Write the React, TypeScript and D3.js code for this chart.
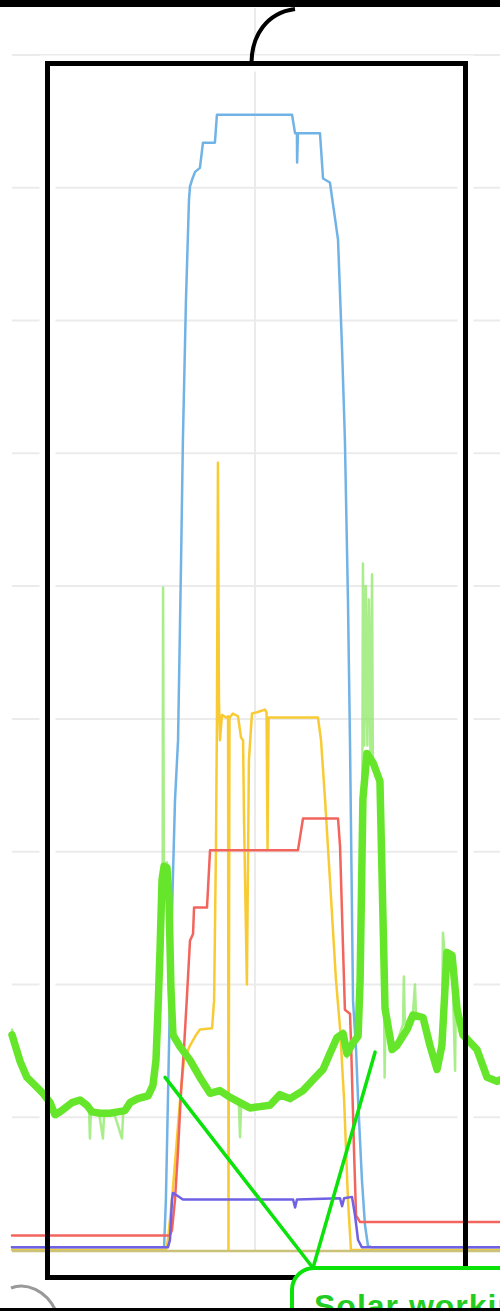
import React from "react";
import * as d3 from "d3";

// time in hours, values in kW
const yTicks = [1, 2, 3, 4, 5, 6, 7, 8, 9];
const xTicks = [12];

const solar: [number, number][] = [
  [0, 0.02], [7.51, 0.02], [7.6, 0.38], [7.7, 1.13], [7.85, 2.26], [8.05, 3.39], [8.2, 3.84],
  [8.35, 5.2], [8.44, 6.1], [8.59, 7.15], [8.74, 7.91], [8.79, 8.01], [8.89, 8.06], [9.04, 8.12],
  [9.28, 8.15], [9.43, 8.34], [10.02, 8.34], [10.12, 8.55], [13.83, 8.55], [13.98, 8.41],
  [14.07, 8.41], [14.08, 8.19], [14.12, 8.41], [15.21, 8.41], [15.36, 8.07], [15.7, 8.04],
  [16.1, 7.61], [16.3, 6.78], [16.44, 6.1], [16.59, 4.9], [16.69, 3.84], [16.84, 1.88],
  [16.99, 1.51], [17.09, 1.13], [17.28, 0.53], [17.43, 0.19], [17.58, 0.03], [17.78, 0.02], [24.1, 0.02],
];

const battery: [number, number][] = [
  [0, 0], [7.6, 0], [7.7, 0.075], [7.9, 0.38], [8.1, 0.75], [8.3, 1.13], [8.49, 1.43], [8.79, 1.54],
  [9.09, 1.62], [9.28, 1.66], [9.88, 1.67], [9.98, 1.88], [10.07, 3.01], [10.12, 3.99], [10.17, 5.93],
  [10.22, 4.14], [10.27, 3.84], [10.37, 4.03], [10.57, 4.01], [10.67, 4.02], [10.69, 0], [10.74, 4.01],
  [10.91, 4.04], [11.16, 4.02], [11.31, 3.86], [11.41, 3.84], [11.46, 3.22], [11.6, 2.0], [11.7, 3.69],
  [11.85, 4.04], [12.1, 4.05], [12.49, 4.07], [12.57, 4.05], [12.62, 3.01], [12.67, 4.01], [12.99, 4.01],
  [14.22, 4.01], [15.11, 4.01], [15.26, 3.84], [15.46, 3.39], [15.7, 2.79], [16.0, 2.03], [16.2, 1.67],
  [16.4, 1.13], [16.59, 0.38], [16.74, 0], [24.1, 0],
];

const heating: [number, number][] = [
  [0, 0.11], [7.8, 0.11], [7.9, 0.15], [8.05, 0.38], [8.2, 0.75], [8.35, 1.2], [8.49, 1.51], [8.64, 1.91],
  [8.79, 2.33], [8.94, 2.38], [8.99, 2.58], [9.63, 2.58], [9.78, 3.01], [14.12, 3.01], [14.37, 3.25],
  [16.1, 3.25], [16.2, 3.04], [16.35, 2.26], [16.44, 1.81], [16.69, 1.78], [16.74, 1.58], [16.89, 0.75],
  [16.99, 0.26], [17.19, 0.21], [24.1, 0.21],
];

const car: [number, number][] = [
  [0, 0.02], [7.7, 0.02], [7.8, 0.075], [7.9, 0.38], [7.95, 0.43], [8.15, 0.41], [8.44, 0.38],
  [13.88, 0.38], [13.98, 0.32], [14.07, 0.38], [16.2, 0.39], [16.3, 0.33], [16.4, 0.39], [16.79, 0.4],
  [16.94, 0.26], [17.09, 0.075], [17.28, 0.02], [24.1, 0.02],
];

const houseRaw: [number, number][] = [
  [0, 1.66], [0.4, 1.45], [0.8, 1.28], [1.2, 1.22], [1.6, 1.16], [2.0, 1.08], [2.2, 1.0], [2.5, 1.06],
  [3.0, 1.12], [3.4, 1.12], [3.8, 1.07], [3.85, 0.84], [3.9, 1.06], [4.3, 1.03], [4.49, 0.84], [4.55, 1.03],
  [5.0, 1.05], [5.43, 0.84], [5.5, 1.06], [5.8, 1.13], [6.2, 1.16], [6.7, 1.18], [7.0, 1.27], [7.2, 1.85],
  [7.35, 2.3], [7.44, 2.9], [7.46, 4.99], [7.5, 2.9], [7.65, 2.92], [7.75, 2.7], [7.85, 1.98], [7.95, 1.64],
  [8.3, 1.55], [8.8, 1.45], [9.3, 1.32], [9.8, 1.2], [10.3, 1.22], [10.8, 1.14], [11.2, 1.12], [11.26, 0.85],
  [11.32, 1.1], [11.8, 1.08], [12.3, 1.1], [12.8, 1.1], [13.2, 1.18], [13.7, 1.15], [14.4, 1.22],
  [14.9, 1.3], [15.4, 1.38], [15.7, 1.5], [16.05, 1.62], [16.35, 1.65], [16.54, 1.45], [16.84, 1.58],
  [17.09, 1.63], [17.2, 2.1], [17.3, 3.4], [17.33, 5.17], [17.4, 3.8], [17.47, 5.0], [17.55, 3.8],
  [17.62, 4.9], [17.7, 3.75], [17.78, 5.09], [17.82, 3.7], [18.1, 3.55], [18.37, 1.95], [18.4, 1.3],
  [18.45, 1.8], [18.77, 1.53], [19.0, 1.56], [19.31, 1.7], [19.35, 2.06], [19.4, 1.7], [19.8, 1.79],
  [19.9, 2.0], [19.95, 1.77], [20.3, 1.77], [20.64, 1.56], [20.99, 1.38], [21.23, 1.56], [21.28, 2.39],
  [21.35, 2.26], [21.48, 2.26], [21.73, 2.24], [21.88, 1.35], [21.92, 1.9], [22.27, 1.64], [22.96, 1.53],
  [23.46, 1.32], [23.95, 1.29], [24.1, 1.3],
];

const houseSmooth: [number, number][] = [
  [0, 1.62], [0.4, 1.42], [0.74, 1.3], [1.14, 1.24], [1.53, 1.18], [1.88, 1.11], [2.12, 1.02], [2.37, 1.04],
  [2.62, 1.07], [2.96, 1.11], [3.36, 1.13], [3.7, 1.09], [3.95, 1.04], [4.35, 1.03], [4.84, 1.03],
  [5.23, 1.04], [5.58, 1.05], [5.83, 1.11], [6.22, 1.14], [6.72, 1.16], [6.96, 1.24], [7.11, 1.43],
  [7.21, 1.81], [7.31, 2.26], [7.41, 2.79], [7.51, 2.89], [7.65, 2.88], [7.75, 2.67], [7.85, 1.96],
  [7.95, 1.62], [8.3, 1.53], [8.79, 1.43], [9.28, 1.3], [9.78, 1.18], [10.27, 1.2], [10.77, 1.15],
  [11.26, 1.11], [11.75, 1.07], [12.25, 1.08], [12.74, 1.09], [13.23, 1.17], [13.73, 1.14], [14.37, 1.2],
  [14.86, 1.28], [15.36, 1.36], [15.7, 1.48], [16.05, 1.6], [16.35, 1.63], [16.54, 1.48], [16.84, 1.56],
  [17.09, 1.61], [17.19, 2.03], [17.33, 3.4], [17.53, 3.74], [17.83, 3.67], [18.17, 3.53], [18.42, 1.82],
  [18.77, 1.51], [19.01, 1.54], [19.51, 1.66], [19.8, 1.77], [20.3, 1.75], [20.64, 1.54], [20.99, 1.36],
  [21.23, 1.54], [21.48, 2.24], [21.73, 2.22], [21.98, 1.81], [22.27, 1.62], [22.96, 1.51], [23.46, 1.3],
  [23.95, 1.27], [24.1, 1.28],
];

const calloutText = "Solar working";

const W = 500;
const H = 1311;

export default function App() {
  const x = d3.scaleLinear().domain([0, 24]).range([12, 498]);
  const y = d3.scaleLinear().domain([0, 9]).range([1250, 55]);
  const line = d3
    .line<[number, number]>()
    .x((d) => x(d[0]))
    .y((d) => y(d[1]))
    .curve(d3.curveLinear);

  const series = [
    { data: solar, color: "#72b3e6", w: 2.5 },
    { data: battery, color: "#f8cb35", w: 2.5 },
    { data: heating, color: "#f2655c", w: 2.5 },
    { data: car, color: "#6f60e4", w: 2.5 },
    { data: houseRaw, color: "rgba(140,232,100,0.75)", w: 2.5 },
    { data: houseSmooth, color: "#66e62a", w: 7.5 },
  ];

  const rect = { x0: 47.5, y0: 63.5, x1: 465.5, y1: 1277.5 };

  return (
    <svg
      width={W}
      height={H}
      style={{ position: "absolute", left: 0, top: 0, background: "#fff" }}
      fontFamily="'Liberation Sans', Arial, sans-serif"
    >
      <rect x={0} y={0} width={W} height={H} fill="#fff" />
      {/* grid */}
      <g stroke="#ebebeb" strokeWidth={2}>
        {yTicks.map((t) => (
          <line key={"h" + t} x1={12} x2={W} y1={y(t)} y2={y(t)} />
        ))}
        {xTicks.map((t) => (
          <line key={"v" + t} x1={x(t)} x2={x(t)} y1={8} y2={y(0)} />
        ))}
      </g>
      {/* white halo around annotation box */}
      <rect
        x={rect.x0}
        y={rect.y0}
        width={rect.x1 - rect.x0}
        height={rect.y1 - rect.y0}
        fill="none"
        stroke="#fff"
        strokeWidth={16}
      />
      {/* data */}
      {series.map((s, i) => (
        <path
          key={i}
          d={line(s.data) || ""}
          fill="none"
          stroke={s.color}
          strokeWidth={s.w}
          strokeLinejoin="round"
          strokeLinecap="round"
        />
      ))}
      {/* baseline */}
      <line x1={12} x2={W} y1={y(0) + 1} y2={y(0) + 1} stroke="#cbc27a" strokeWidth={2.5} />

      {/* black annotation rectangle */}
      <rect
        x={rect.x0}
        y={rect.y0}
        width={rect.x1 - rect.x0}
        height={rect.y1 - rect.y0}
        fill="none"
        stroke="#000"
        strokeWidth={5}
      />
      {/* black connector arc */}
      <path d="M251.5,62 C252,36 266,13 295,9" fill="none" stroke="#000" strokeWidth={4} />

      {/* green callout lines */}
      <g stroke="#0ae20a" strokeWidth={3.5} strokeLinecap="round">
        <line x1={x(7.56)} y1={y(1.3)} x2={313} y2={1268} />
        <line x1={x(17.93)} y1={y(1.49)} x2={313} y2={1268} />
      </g>
      {/* green callout box */}
      <rect x={292} y={1268} width={260} height={90} rx={22} fill="#fff" stroke="#0ae20a" strokeWidth={4} />
      <text x={314} y={1317} fontSize={32} fontWeight="bold" fill="#22cc22" letterSpacing={1}>
        {calloutText}
      </text>

      {/* gray arc bottom-left */}
      <path d="M11,1288 C26,1282 46,1290 56,1311" fill="none" stroke="#999" strokeWidth={3} />

      {/* frame bars */}
      <rect x={0} y={0} width={W} height={7} fill="#000" />
      <rect x={0} y={1308} width={W} height={3} fill="#000" />
    </svg>
  );
}
